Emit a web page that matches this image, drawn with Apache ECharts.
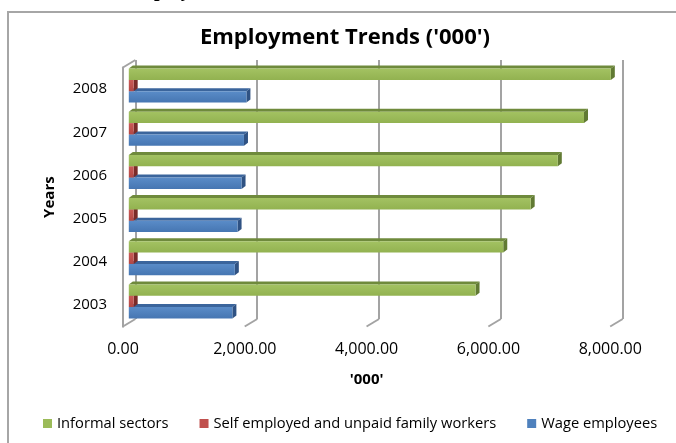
<!DOCTYPE html>
<html>
<head>
<meta charset="utf-8">
<script src="https://cdn.jsdelivr.net/npm/echarts/dist/echarts.min.js"></script>
<style>
html,body{margin:0;padding:0;background:#fff;}
#chart{width:676px;height:443px;}
</style>
</head>
<body>
<div id="chart"></div>
<script>
const years = ['2003', '2004', '2005', '2006', '2007', '2008'];
const informalSectors = [5690, 6145, 6595, 7040, 7470, 7910];
const selfEmployed = [80, 80, 80, 80, 80, 80];
const wageEmployees = [1700, 1740, 1785, 1850, 1890, 1930];
const xTicks = [0, 2000, 4000, 6000, 8000];
const seriesNames = ['Informal sectors', 'Self employed and unpaid family workers', 'Wage employees'];

const FONT = '"Open Sans"';
const GRID_GRAY = '#a3a3a3';
const DX = -12.5, DY = 7.5; // back -> front offset

function fmt(v) {
  return Number(v).toLocaleString('en-US', {minimumFractionDigits: 2, maximumFractionDigits: 2});
}

function barRenderer(offset, face1, face2, top, side) {
  return function (params, api) {
    const val = api.value(0), cat = api.value(1);
    const s = api.coord([0, cat]);
    const e = api.coord([val, cat]);
    const band = api.size([0, 1])[1];
    const h = band * 0.262;
    const yc = s[1] + offset * h;
    const y0 = yc - h / 2, y1 = yc + h / 2;
    const x0 = s[0], x1 = e[0];
    const dx = 4, dy = 3;
    return {
      type: 'group',
      children: [
        {type: 'polygon', shape: {points: [[x0, y0], [x1, y0], [x1 + dx, y0 - dy], [x0 + dx, y0 - dy]]},
         style: {fill: top}},
        {type: 'polygon', shape: {points: [[x1, y0], [x1 + dx, y0 - dy], [x1 + dx, y1 - dy], [x1, y1]]},
         style: {fill: side}},
        {type: 'rect', shape: {x: x0, y: y0, width: x1 - x0, height: y1 - y0},
         style: {fill: new echarts.graphic.LinearGradient(0, 0, 0, 1, [
           {offset: 0, color: face1}, {offset: 1, color: face2}])}}
      ]
    };
  };
}

const chart = echarts.init(document.getElementById('chart'), null, {renderer: 'canvas'});
const option = {
  animation: false,
  backgroundColor: '#ffffff',
  graphic: [
    {type: 'rect', shape: {x: 8, y: 12, width: 700, height: 460},
     style: {fill: 'none', stroke: '#a6a6a6', lineWidth: 2}, z: 0},
    {type: 'text', x: 124, y: 1, style: {text: 'Employment', font: 'bold 20px "Liberation Serif"',
     fill: '#000', verticalAlign: 'bottom'}},
    {type: 'text', x: 345, y: 38, style: {text: "Employment Trends ('000')", font: 'bold 22px ' + FONT,
     fill: '#000', align: 'center', verticalAlign: 'middle'}}
  ],
  legend: {
    data: seriesNames,
    left: 43, top: 416, padding: 0,
    icon: 'rect', itemWidth: 9, itemHeight: 9, itemGap: 31,
    textStyle: {fontFamily: FONT, fontSize: 14.7, color: '#000'}
  },
  grid: [
    {left: 135.4, top: 60, width: 487.3, height: 259, containLabel: false},
    {left: 128.8, top: 64, width: 487.5, height: 259, containLabel: false},
    {left: 123, top: 67.5, width: 487.3, height: 259.2, containLabel: false}
  ],
  xAxis: [
    {gridIndex: 0, type: 'value', min: 0, max: 8000, interval: 2000,
     axisLine: {show: false}, axisTick: {show: false}, axisLabel: {show: false},
     splitLine: {show: true, lineStyle: {color: GRID_GRAY, width: 2}}},
    {gridIndex: 1, type: 'value', min: 0, max: 8000, interval: 2000,
     axisLine: {show: false}, axisTick: {show: false}, axisLabel: {show: false}, splitLine: {show: false}},
    {gridIndex: 2, type: 'value', min: 0, max: 8000, interval: 2000,
     axisLine: {show: false}, axisTick: {show: false}, splitLine: {show: false},
     axisLabel: {show: true, margin: 15, formatter: fmt, fontFamily: FONT, fontSize: 16, color: '#000'},
     name: "'000'", nameLocation: 'middle', nameGap: 46,
     nameTextStyle: {fontFamily: FONT, fontSize: 15, fontWeight: 'bold', color: '#000'}}
  ],
  yAxis: [
    {gridIndex: 0, type: 'category', data: years, show: false},
    {gridIndex: 1, type: 'category', data: years, show: false},
    {gridIndex: 2, type: 'category', data: years,
     axisLine: {show: true, lineStyle: {color: GRID_GRAY, width: 2}}, axisTick: {show: false},
     splitLine: {show: false},
     axisLabel: {margin: 16, fontFamily: FONT, fontSize: 15, color: '#000'},
     name: 'Years', nameLocation: 'middle', nameGap: 66, nameRotate: 90,
     nameTextStyle: {fontFamily: FONT, fontSize: 15, fontWeight: 'bold', color: '#000'}}
  ],
  series: [
    {
      type: 'custom', name: 'walls', xAxisIndex: 0, yAxisIndex: 0, silent: true,
      data: xTicks.map(v => [v, 0]),
      encode: {x: 0, y: 1},
      renderItem: function (params, api) {
        const v = api.value(0);
        const x = api.coord([v, 0])[0];
        const cs = params.coordSys;
        const bottom = cs.y + cs.height, top = cs.y;
        const children = [{type: 'line', shape: {x1: x, y1: bottom, x2: x + DX, y2: bottom + DY},
          style: {stroke: GRID_GRAY, lineWidth: 2}}];
        if (v === 0) {
          children.push({type: 'line', shape: {x1: x, y1: top, x2: x + DX, y2: top + DY},
            style: {stroke: GRID_GRAY, lineWidth: 2}});
        }
        return {type: 'group', children: children};
      }
    },
    {
      type: 'custom', name: seriesNames[2], xAxisIndex: 1, yAxisIndex: 1,
      itemStyle: {color: '#4f81bd'},
      data: wageEmployees.map((v, i) => [v, i]), encode: {x: 0, y: 1},
      renderItem: barRenderer(1, '#5a8cc8', '#4676b2', '#3b659c', '#2f5283')
    },
    {
      type: 'custom', name: seriesNames[1], xAxisIndex: 1, yAxisIndex: 1,
      itemStyle: {color: '#c0504d'},
      data: selfEmployed.map((v, i) => [v, i]), encode: {x: 0, y: 1},
      renderItem: barRenderer(0, '#c95a57', '#b34744', '#8e3532', '#7a2b29')
    },
    {
      type: 'custom', name: seriesNames[0], xAxisIndex: 1, yAxisIndex: 1,
      itemStyle: {color: '#9bbb59'},
      data: informalSectors.map((v, i) => [v, i]), encode: {x: 0, y: 1},
      renderItem: barRenderer(-1, '#a3c262', '#92b250', '#6f8a3c', '#617a33')
    }
  ]
};
chart.setOption(option);
</script>
</body>
</html>
